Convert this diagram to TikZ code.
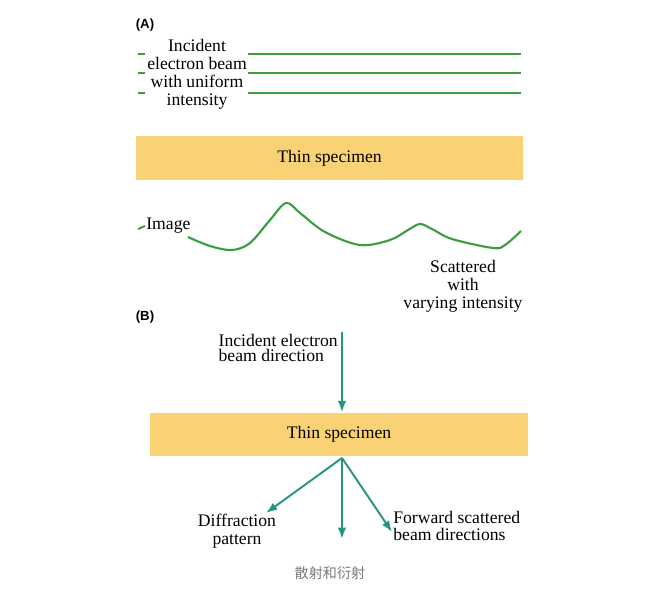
\documentclass[tikz,border=0pt]{standalone}
\usepackage{fontspec}
\setmainfont{Liberation Serif}
\newfontfamily\tagfont{Liberation Sans}
\newfontfamily\cjk{Noto Sans CJK SC}
\usetikzlibrary{shapes,arrows,arrows.meta}
\usetikzlibrary{positioning}
\definecolor{beamgreen}{RGB}{58,158,62}
\definecolor{rayteal}{RGB}{38,150,128}
\definecolor{specyellow}{RGB}{248,210,116}
\definecolor{captiongray}{RGB}{120,120,120}
\tikzset{auto,>={Latex[length=6.4pt,width=4.8pt]}, x=0.567pt, y=-0.567pt, font=\fontsize{10}{10.2}\selectfont}
\tikzstyle{specimen} = [fill=specyellow, rectangle, inner sep=0pt, minimum height=24.8pt, text centered]
\tikzstyle{beam} = [draw=beamgreen, line width=1.35pt]
\tikzstyle{ray} = [->, draw=rayteal, fill=rayteal, line width=1.1pt]
\tikzstyle{tag} = [font=\tagfont\bfseries\fontsize{7.5}{8}\selectfont]
\tikzstyle{label} = [align=center, inner sep=0pt]
\tikzstyle{input} = [coordinate]

\begin{document}
\begin{tikzpicture}
		\useasboundingbox (0,0) rectangle (666,602);
		\node [tag] (tagA) at (145,25) {(A)};
		\node [label] (incident) at (197,74) {Incident\\electron beam\\with uniform\\intensity};
		\foreach \y [count=\i] in {54,73,93} {
			\coordinate (lead\i) at (138,\y);
			\coordinate (leadend\i) at (145,\y);
			\coordinate (beam\i) at (248,\y);
			\coordinate (beamend\i) at (521,\y);
			\draw [beam] (lead\i) -- (leadend\i);
			\draw [beam] (beam\i) -- (beamend\i);
		}
		\node [specimen, minimum width=219.4pt] (specA) at (329.5,158) {Thin specimen};

		\node [label, anchor=west] (image) at (146,226) {Image};
		\coordinate (imgtick) at (138,229);
		\draw [beam, line width=1.1pt] (imgtick) -- ([xshift=-0.6pt]image.west);
		\draw [beam, line width=1.2pt] plot [smooth, tension=0.55] coordinates {(188,237) (210,246) (232,250) (250,243) (270,220) (286,203) (300,213) (325,232) (360,245) (390,240) (408,230) (420,224) (432,229) (452,239) (493,248) (505,245) (521,231)};
		\node [label] (scattered) at (463,286) {Scattered\\with\\varying intensity};

		\node [tag] (tagB) at (145,317) {(B)};
		\coordinate (source) at (342,332);
		\node [label, anchor=east, align=left, font=\fontsize{10}{8.6}\selectfont] (direction) at (338,348) {Incident electron\\beam direction};
		\node [specimen, minimum width=214.3pt] (specB) at (339,434.5) {Thin specimen};
		\draw [ray] (source) -- (source |- specB.north);

		\coordinate (exit) at (342,458);
		\coordinate (difftip) at (266,513);
		\coordinate (straighttip) at (342,539);
		\coordinate (fwdtip) at (392,532);
		\draw [ray] (exit) -- (difftip);
		\draw [ray] (exit) -- (straighttip);
		\draw [ray] (exit) -- (fwdtip);
		\node [label, font=\fontsize{10}{9.9}\selectfont] (diffraction) at (237,531) {Diffraction\\pattern};
		\node [label, anchor=west, align=left, font=\fontsize{10}{9.6}\selectfont] (forward) at (393,526) {Forward scattered\\beam directions};

		\node [text=captiongray, font=\cjk\fontsize{8}{8}\selectfont] (caption) at (330,573) {散射和衍射};
	\end{tikzpicture}
\end{document}
